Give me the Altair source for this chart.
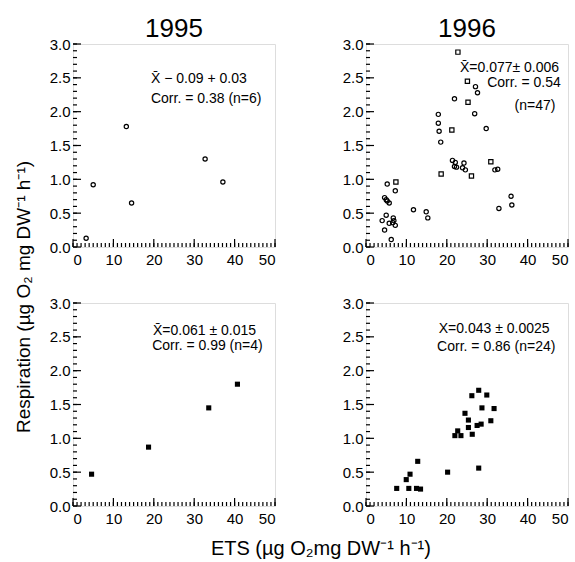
import altair as alt
import pandas as pd

FONT = "Liberation Sans"

# ---- data ----
# 1995, upper panel (open circles)
ets_95a = [3.25, 5.0, 13.2, 14.5, 32.7, 37.1]
resp_95a = [0.13, 0.92, 1.78, 0.65, 1.30, 0.96]

# 1996, upper panel (open circles "o" and open squares "s")
ets_96a = [22.75, 25.1, 27.1, 27.6, 21.9, 25.25, 17.9, 26.9, 17.9, 18.1,
           21.25, 29.75, 18.5, 21.4, 22.1, 21.9, 22.4, 24.25, 23.9, 24.6,
           18.6, 26.1, 30.9, 31.9, 32.6, 32.9, 35.9, 36.1, 11.75, 14.9,
           15.3, 5.25, 7.4, 7.25, 4.6, 5.0, 5.25, 5.75, 5.0, 4.0,
           5.75, 6.75, 6.9, 6.6, 7.25, 4.6, 6.25]
resp_96a = [2.88, 2.45, 2.37, 2.28, 2.19, 2.14, 1.96, 1.97, 1.83, 1.71,
            1.73, 1.75, 1.55, 1.28, 1.25, 1.19, 1.18, 1.24, 1.17, 1.14,
            1.08, 1.05, 1.26, 1.14, 1.15, 0.57, 0.75, 0.62, 0.55, 0.52,
            0.43, 0.93, 0.96, 0.83, 0.73, 0.70, 0.68, 0.65, 0.47, 0.39,
            0.35, 0.43, 0.39, 0.36, 0.32, 0.25, 0.11]
mark_96a = ["s", "s", "o", "o", "o", "s", "o", "o", "o", "o",
            "s", "o", "o", "o", "o", "o", "o", "o", "o", "o",
            "s", "s", "s", "o", "o", "o", "o", "o", "o", "o",
            "o", "o", "s", "o", "o", "o", "o", "o", "o", "o",
            "o", "o", "o", "o", "o", "o", "o"]

# 1995, lower panel (filled squares)
ets_95b = [4.6, 18.7, 33.6, 40.7]
resp_95b = [0.47, 0.87, 1.45, 1.80]

# 1996, lower panel (filled squares)
ets_96b = [7.6, 9.96, 10.9, 10.6, 12.8, 12.5, 13.5, 20.2, 22.0, 22.7,
           23.5, 24.5, 25.35, 25.35, 26.2, 26.3, 27.9, 27.5, 28.5, 27.9,
           28.7, 29.9, 30.9, 31.7]
resp_96b = [0.26, 0.39, 0.47, 0.26, 0.66, 0.26, 0.25, 0.50, 1.04, 1.11,
            1.04, 1.37, 1.27, 1.16, 1.63, 1.06, 1.71, 1.19, 1.21, 0.56,
            1.45, 1.64, 1.26, 1.44]

# annotations: (x, y, text)
ann_95a = [(19.3, 2.48, "X\u0304 \u2212 0.09 + 0.03"), (19.3, 2.19, "Corr. = 0.38 (n=6)")]
ann_96a_right = [(47.8, 2.65, "X\u0304=0.077\u00b1 0.006"), (48.2, 2.42, "Corr. = 0.54"),
                 (46.9, 2.09, "(n=47)")]
ann_95b = [(19.8, 2.58, "X\u0304=0.061 \u00b1 0.015"), (19.6, 2.36, "Corr. = 0.99 (n=4)")]
ann_96b = [(18.0, 2.62, "X=0.043 \u00b1 0.0025"), (17.6, 2.35, "Corr. = 0.86 (n=24)")]

x_labels = [0, 10, 20, 30, 40, 50]
y_labels = [0.0, 0.5, 1.0, 1.5, 2.0, 2.5, 3.0]
x_minor = [float(v) for v in range(0, 51)]
x_major = [0.0, 10.0, 20.0, 30.0, 40.0, 50.0]
y_minor = [round(i * 0.1, 1) for i in range(31)]
y_major = [0.0, 0.5, 1.0, 1.5, 2.0, 2.5, 3.0]

W, H = 202, 203
LBL = 15
ANN = 14

xscale = alt.Scale(domain=[0, 50], nice=False, zero=False)
yscale = alt.Scale(domain=[0, 3], nice=False, zero=False)
xaxis = alt.Axis(values=x_labels, title=None, grid=False, ticks=False, domain=False,
                 labelPadding=5, labelFontSize=LBL, labelFont=FONT, labelColor="black",
                 labelOverlap=False)
yaxis = alt.Axis(values=y_labels, format=".1f", title=None, grid=False, ticks=False,
                 domain=False, labelPadding=3, labelFontSize=LBL, labelFont=FONT,
                 labelColor="black", labelOverlap=False)


def x_ticks(vals, length):
    return alt.Chart(pd.DataFrame({"xt": vals})).mark_rule(
        color="black", strokeWidth=1.2).encode(
        x=alt.X("xt:Q", scale=xscale, axis=xaxis), y=alt.value(H), y2=alt.value(H - length))


def y_ticks(vals, length):
    return alt.Chart(pd.DataFrame({"yt": vals})).mark_rule(
        color="black", strokeWidth=1.2).encode(
        y=alt.Y("yt:Q", scale=yscale, axis=yaxis), x=alt.value(0), x2=alt.value(length))


def texts(ann, align):
    df = pd.DataFrame({"ax": [a[0] for a in ann], "ay": [a[1] for a in ann],
                       "t": [a[2] for a in ann]})
    return alt.Chart(df).mark_text(align=align, baseline="middle", fontSize=ANN,
                                   font=FONT, color="black").encode(
        x=alt.X("ax:Q", scale=xscale, axis=xaxis),
        y=alt.Y("ay:Q", scale=yscale, axis=yaxis),
        text="t:N")


def panel(points, text_layers, title=None):
    ch = alt.layer(points, *text_layers, x_ticks(x_minor, 4), x_ticks(x_major, 8),
                   y_ticks(y_minor, 4), y_ticks(y_major, 8)).properties(width=W, height=H)
    if title:
        ch = ch.properties(title=alt.TitleParams(title, fontSize=26, font=FONT,
                                                 fontWeight="normal", anchor="middle",
                                                 offset=-5, color="black"))
    return ch


df95a = pd.DataFrame({"ets": ets_95a, "resp": resp_95a})
p1_pts = alt.Chart(df95a).mark_point(shape="circle", size=18, color="black",
                                     strokeWidth=1.2, filled=False, opacity=1).encode(
    x=alt.X("ets:Q", scale=xscale, axis=xaxis), y=alt.Y("resp:Q", scale=yscale, axis=yaxis))

df96a = pd.DataFrame({"ets": ets_96a, "resp": resp_96a, "m": mark_96a})
p2_pts = alt.Chart(df96a).mark_point(size=18, color="black", strokeWidth=1.2,
                                     filled=False, opacity=1).encode(
    x=alt.X("ets:Q", scale=xscale, axis=xaxis), y=alt.Y("resp:Q", scale=yscale, axis=yaxis),
    shape=alt.Shape("m:N", scale=alt.Scale(domain=["o", "s"], range=["circle", "square"]),
                    legend=None))

df95b = pd.DataFrame({"ets": ets_95b, "resp": resp_95b})
p3_pts = alt.Chart(df95b).mark_square(size=26, color="black", filled=True, opacity=1).encode(
    x=alt.X("ets:Q", scale=xscale, axis=xaxis), y=alt.Y("resp:Q", scale=yscale, axis=yaxis))

df96b = pd.DataFrame({"ets": ets_96b, "resp": resp_96b})
p4_pts = alt.Chart(df96b).mark_square(size=26, color="black", filled=True, opacity=1).encode(
    x=alt.X("ets:Q", scale=xscale, axis=xaxis), y=alt.Y("resp:Q", scale=yscale, axis=yaxis))

p1 = panel(p1_pts, [texts(ann_95a, "left")], "1995")
p2 = panel(p2_pts, [texts(ann_96a_right, "right")], "1996")
p3 = panel(p3_pts, [texts(ann_95b, "left")])
p4 = panel(p4_pts, [texts(ann_96b, "left")])

grid = alt.vconcat(
    alt.hconcat(p1, p2, spacing=64),
    alt.hconcat(p3, p4, spacing=64),
    spacing=27,
    title=alt.TitleParams("ETS (\u00b5g O\u2082mg DW\u207b\u00b9 h\u207b\u00b9)", orient="bottom",
                          anchor="middle", fontSize=20, font=FONT, fontWeight="normal",
                          offset=12, dx=12, color="black"),
)

chart = alt.hconcat(
    grid,
    title=alt.TitleParams("Respiration (\u00b5g O\u2082 mg DW\u207b\u00b9 h\u207b\u00b9)",
                          orient="left", anchor="middle", fontSize=19, font=FONT,
                          fontWeight="normal", offset=15, dx=-10, color="black"),
).properties(padding={"left": 14, "top": 15, "right": 0, "bottom": 4}
).configure_view(stroke="black", strokeWidth=1
).configure(background="white")

chart.save("out.html", embed_options={"renderer": "svg", "actions": False})
